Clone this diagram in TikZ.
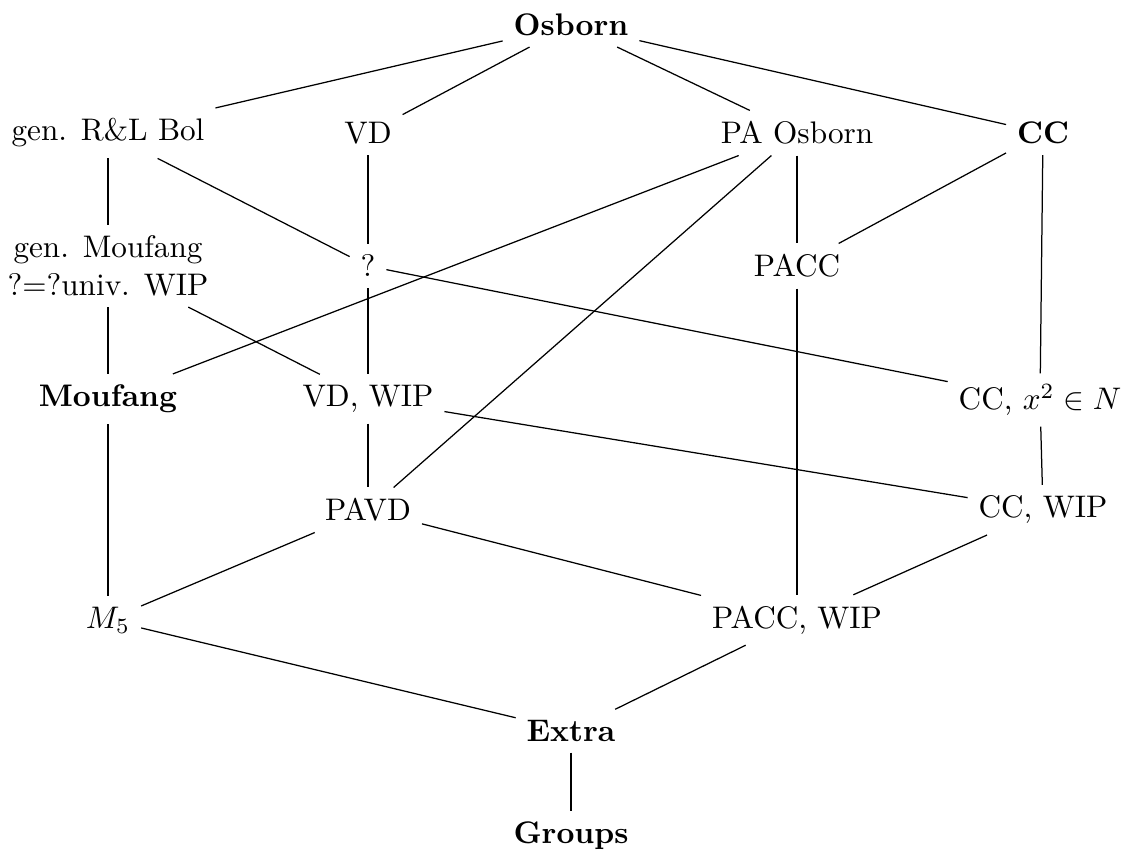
\documentclass[tikz,border=0pt]{standalone}
\begin{document}
\begin{tikzpicture}[x=0.3205pt,y=-0.3205pt, edge/.style={draw=black, line width=0.4pt}]
\useasboundingbox (0,0) rectangle (1122,850);
% row 0
\node (osb) at (571,25) {\textbf{Osborn}};
% row 1
\node (bol) at (108,133) {gen. R\&L Bol};
\node (vd) at (368,133) {VD};
\node (pao) at (797,133) {PA Osborn};
\node (cc) at (1043,133) {\textbf{CC}};
% row 2
\node[align=center] (gm) at (108,266) {gen. Moufang\\?=?univ. WIP};
\node (q) at (368,266) {?};
\node (pacc) at (797,266) {PACC};
% row 3
\node (mou) at (108,399) {\textbf{Moufang}};
\node (vdw) at (368,399) {VD, WIP};
\node (ccx) at (1040,400) {CC, $x^2\in N$};
% row 4
\node (pavd) at (368,510) {PAVD};
\node (ccw) at (1043,510) {CC, WIP};
% row 5
\node (m5) at (108,620) {$M_5$};
\node (paccw) at (797,620) {PACC, WIP};
% row 6,7
\node (ext) at (571,731) {\textbf{Extra}};
\node (grp) at (571,836) {\textbf{Groups}};
% edges
\path[edge] (osb) -- (bol);
\path[edge] (osb) -- (vd);
\path[edge] (osb) -- (pao);
\path[edge] (osb) -- (cc);
\path[edge] (bol) -- (gm);
\path[edge] (bol) -- (q);
\path[edge] (vd) -- (q);
\path[edge] (q) -- (vdw);
\path[edge] (q) -- (ccx);
\path[edge] (gm) -- (mou);
\path[edge] (gm) -- (vdw);
\path[edge] (pao) -- (mou);
\path[edge] (pao) -- (pavd);
\path[edge] (pao) -- (pacc);
\path[edge] (cc) -- (pacc);
\path[edge] (cc) -- (ccx);
\path[edge] (pacc) -- (paccw);
\path[edge] (mou) -- (m5);
\path[edge] (vdw) -- (pavd);
\path[edge] (vdw) -- (ccw);
\path[edge] (ccx) -- (ccw);
\path[edge] (pavd) -- (m5);
\path[edge] (pavd) -- (paccw);
\path[edge] (ccw) -- (paccw);
\path[edge] (m5) -- (ext);
\path[edge] (paccw) -- (ext);
\path[edge] (ext) -- (grp);
\end{tikzpicture}
\end{document}
